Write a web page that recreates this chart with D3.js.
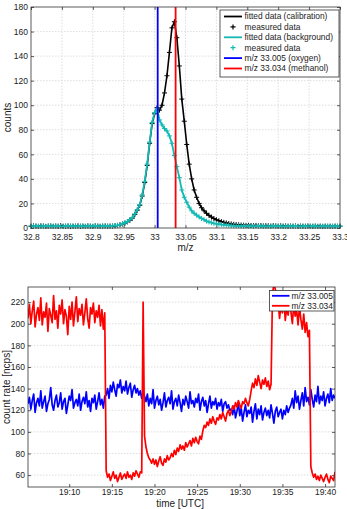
<!DOCTYPE html>
<html>
<head>
<meta charset="utf-8">
<script src="https://cdnjs.cloudflare.com/ajax/libs/d3/7.8.5/d3.min.js"></script>
<style>
    body { margin: 0; background: #fff; }
    svg { display: block; font-family: "Liberation Sans", Arial, sans-serif; }
    .tick text { font-size: 8.5px; fill: #222; }
    .lbl { font-size: 10px; fill: #222; }
    .leg { font-size: 8.4px; fill: #222; }
</style>
</head>
<body>
<script>
// ---- upper panel: mass peak around m/z 33 ----
var mzStart = 32.8;
var mzStep = 0.004;
var mzTicks = [32.8, 32.85, 32.9, 32.95, 33, 33.05, 33.1, 33.15, 33.2, 33.25, 33.3];
var countTicks = [0, 20, 40, 60, 80, 100, 120, 140, 160, 180];

var calibration = [
    1.4, 1.7, 1.5, 1.3, 1.8, 1.6, 1.2, 1.5, 1.7, 1.4, 1.6, 1.3, 1.9, 1.5, 1.4, 1.7, 1.2, 1.6, 1.5, 1.8,
    1.3, 1.6, 1.4, 1.7, 1.5, 1.3, 1.8, 1.6, 1.4, 1.5, 1.7, 1.3, 1.6, 1.5, 1.8,
    2.1, 2.6, 3.2, 4.0, 5.0, 6.4, 8.0, 11, 14.5, 18.5, 26, 37, 51, 69, 85, 93, 98,
    96, 100, 110, 124, 143, 163, 168, 155, 132, 105, 87, 68, 52, 40, 31, 25, 20, 16.5, 14, 12,
    10.3, 8.9, 7.7, 6.7, 5.9, 5.2, 4.6, 4.1, 3.7, 3.3, 3.0, 2.8, 2.6, 2.4,
    2.3, 2.1, 2.2, 2.0, 1.9, 2.1, 1.8, 2.0, 1.7, 1.9, 1.8, 1.6, 1.9, 1.7, 1.5, 1.8, 1.6, 1.7, 1.4, 1.6,
    1.5, 1.7, 1.3, 1.6, 1.5, 1.4, 1.7, 1.5, 1.3, 1.6, 1.4, 1.5, 1.2, 1.6, 1.4, 1.5, 1.3, 1.6, 1.4, 1.5
];
var background = [
    1.6, 1.3, 1.8, 1.5, 1.2, 1.7, 1.4, 1.9, 1.5, 1.3, 1.6, 1.8, 1.4, 1.2, 1.7, 1.5, 1.9, 1.3, 1.6, 1.4,
    1.8, 1.5, 1.2, 1.7, 1.6, 1.4, 1.9, 1.5, 1.3, 1.7, 1.6, 1.8, 1.4, 1.9, 2.0,
    2.2, 2.8, 3.4, 4.2, 5.3, 6.8, 8.5, 11.5, 15, 19, 27, 38, 52, 70, 86, 94, 97, 88, 84, 81,
    79, 75, 69, 59, 50, 41, 31, 25, 21, 17, 14, 12, 10.5, 9, 7.8, 6.8, 5.6, 4.9, 4.3, 3.8,
    3.4, 3.1, 2.8, 2.6, 2.4, 2.2,
    2.0, 1.9, 1.7, 1.8, 1.6, 1.5, 1.7, 1.4, 1.6, 1.3, 1.5, 1.7, 1.4, 1.6, 1.2, 1.5, 1.4, 1.7, 1.3, 1.6,
    1.5, 1.2, 1.4, 1.6, 1.3, 1.5, 1.7, 1.4, 1.2, 1.5, 1.6, 1.3, 1.4, 1.7, 1.5, 1.2, 1.4, 1.6, 1.3, 1.5,
    1.4, 1.6, 1.3, 1.5, 1.4
];
var markerLines = [
    { name: "m/z 33.005 (oxygen)", mz: 33.005, color: "#0000ff" },
    { name: "m/z 33.034 (methanol)", mz: 33.034, color: "#ff0000" }
];

// ---- lower panel: count rates over time, one sample every 10 s ----
var timeStart = "19:05:10";
var timeStepSec = 10;
var timeTicks = ["19:10", "19:15", "19:20", "19:25", "19:30", "19:35", "19:40"];
var rateTicks = [60, 80, 100, 120, 140, 160, 180, 200, 220];

var rate33005 = [
    126, 132, 121, 129, 135, 118, 127, 131, 124, 138, 122, 128, 133, 119, 126, 130, 141, 125, 120, 129,
    134, 123, 127, 136, 121, 128, 131, 117, 125, 133, 129, 139, 122, 127, 130, 124, 135, 120, 128, 132,
    126, 137, 123, 129, 119, 131, 127, 134, 121, 128, 136, 125, 130, 122, 133,
    134, 140, 131, 143, 137, 146, 139, 133, 144, 141, 148, 136, 142, 138, 147, 135, 141, 145, 132, 139,
    143, 136, 140, 134, 138, 131, 137, 133,
    128, 135, 124, 131, 126, 139, 122, 129, 133, 125, 130, 120, 127, 136, 123, 129, 132, 126, 138, 121,
    128, 131, 124, 134, 127, 119, 130, 125, 133, 128, 122, 137, 126, 129, 123, 131, 127, 135, 120, 128,
    132, 124, 129, 118, 126, 133, 122, 128, 125, 131, 121, 127, 124, 130, 119, 126, 128, 122, 125, 120,
    121, 116, 124, 113, 119, 127, 115, 122, 110, 118, 125, 114, 120, 117, 123, 109, 119, 126, 112, 121,
    116, 124, 111, 118, 122, 115, 120, 113, 125, 117, 108, 119, 123, 114, 118, 121, 112, 120, 116, 124,
    118, 122,
    125, 131, 122, 138, 127, 133, 121, 129, 136, 124, 141, 128, 132, 125, 139, 130, 123, 134, 128, 142,
    126, 133, 129, 137, 124, 131, 135, 127, 140, 129, 134, 131
];
var rate33034 = [
    205, 218, 200, 212, 221, 197, 209, 215, 203, 224, 199, 211, 206, 219, 193, 214, 208, 201, 226, 204,
    212, 196, 217, 209, 222, 200, 213, 207, 190, 216, 204, 220, 198, 211, 225, 202, 214, 208, 218, 199,
    210, 223, 205, 196, 215, 209, 219, 201, 212, 206, 217, 198, 213, 195, 210,
    64, 58, 61, 55, 59, 63, 57, 60, 54, 58, 62, 56, 59, 61, 57, 63, 58, 60, 56, 62, 59, 64, 61, 58, 63, 62,
    220,
    96, 86, 80, 76, 74, 71, 75,
    70, 74, 68, 73, 77, 71, 69, 75, 72, 78, 74, 76,
    80, 77, 83, 79, 85, 82, 88, 84, 87, 83, 90, 86,
    89, 92, 87, 94, 90, 95, 91, 89, 96, 93, 101, 106,
    104, 109, 106, 112, 108, 114, 110, 107, 113, 111, 116, 112, 118, 114, 110, 117, 120, 115,
    119, 124, 121, 127, 123, 129, 125, 122, 128, 126, 131, 127, 124, 130,
    138, 145, 141, 149, 143, 152, 146, 140, 148, 144, 150, 142, 147, 139, 144,
    226, 238, 232, 214, 220, 205, 217, 210, 224, 203, 215, 208, 221, 211, 200, 218, 207, 213, 199, 216,
    204, 195, 209, 192, 201, 188, 194,
    68, 62, 58, 61, 56, 59, 55, 60, 57, 54, 58, 61, 56, 53, 59, 57, 55, 63
];

var width = 347, height = 509;
var cyan = "#14b9b4";

var svg = d3.select("body").append("svg")
    .attr("width", width)
    .attr("height", height);

svg.append("defs").append("clipPath").attr("id", "clipB")
    .append("rect").attr("x", 28).attr("y", 287).attr("width", 307).attr("height", 200);

// ================= upper panel =================
var x1 = d3.scaleLinear().domain([32.8, 33.3]).range([31, 340]);
var y1 = d3.scaleLinear().domain([0, 180]).range([228, 7]);

function mzAt(i) { return mzStart + i * mzStep; }

var g1 = svg.append("g");

// grid
g1.append("g").selectAll("line").data(mzTicks.slice(1, -1)).enter().append("line")
    .attr("x1", function(d) { return x1(d); }).attr("x2", function(d) { return x1(d); })
    .attr("y1", y1(0)).attr("y2", y1(180))
    .attr("stroke", "#d6d6d6").attr("stroke-dasharray", "1.5,1.5").attr("stroke-width", 0.8);
g1.append("g").selectAll("line").data(countTicks.slice(1, -1)).enter().append("line")
    .attr("y1", function(d) { return y1(d); }).attr("y2", function(d) { return y1(d); })
    .attr("x1", x1(32.8)).attr("x2", x1(33.3))
    .attr("stroke", "#d6d6d6").attr("stroke-dasharray", "1.5,1.5").attr("stroke-width", 0.8);

// axes
g1.append("g").attr("transform", "translate(0," + y1(0) + ")")
    .call(d3.axisBottom(x1).tickValues(mzTicks).tickSizeInner(-3).tickSizeOuter(0).tickPadding(6)
        .tickFormat(function(d) { return d3.format("")(+d.toFixed(2)); }));
g1.append("g").attr("transform", "translate(" + x1(32.8) + ",0)")
    .call(d3.axisLeft(y1).tickValues(countTicks).tickSizeInner(-3).tickSizeOuter(0).tickPadding(3));
g1.append("g").attr("transform", "translate(0," + y1(180) + ")")
    .call(d3.axisTop(x1).tickValues(mzTicks).tickSizeInner(-3).tickSizeOuter(0).tickFormat(""));
g1.append("g").attr("transform", "translate(" + x1(33.3) + ",0)")
    .call(d3.axisRight(y1).tickValues(countTicks).tickSizeInner(-3).tickSizeOuter(0).tickFormat(""));

var line1 = d3.line()
    .x(function(d, i) { return x1(mzAt(i)); })
    .y(function(d) { return y1(d); });

function plusMarks(parent, values, color) {
    parent.append("g").selectAll("path").data(values).enter().append("path")
        .attr("transform", function(d, i) { return "translate(" + x1(mzAt(i)) + "," + y1(d) + ")"; })
        .attr("d", "M-2.5,0H2.5M0,-2.5V2.5")
        .attr("stroke", color).attr("stroke-width", 1);
}

g1.append("path").datum(calibration).attr("d", line1)
    .attr("fill", "none").attr("stroke", "#000").attr("stroke-width", 1.6);
plusMarks(g1, calibration, "#000");
g1.append("path").datum(background).attr("d", line1)
    .attr("fill", "none").attr("stroke", cyan).attr("stroke-width", 1.8);
plusMarks(g1, background, cyan);

g1.append("g").selectAll("line").data(markerLines).enter().append("line")
    .attr("x1", function(d) { return x1(d.mz); }).attr("x2", function(d) { return x1(d.mz); })
    .attr("y1", y1(0)).attr("y2", y1(180))
    .attr("stroke", function(d) { return d.color; }).attr("stroke-width", 1.8);

// frame
g1.append("rect").attr("x", x1(32.8)).attr("y", y1(180))
    .attr("width", x1(33.3) - x1(32.8)).attr("height", y1(0) - y1(180))
    .attr("fill", "none").attr("stroke", "#333").attr("stroke-width", 0.8);

// legend
var legend1 = [
    { name: "fitted data (calibration)", color: "#000", type: "line" },
    { name: "measured data", color: "#000", type: "plus" },
    { name: "fitted data (background)", color: cyan, type: "line" },
    { name: "measured data", color: cyan, type: "plus" },
    { name: markerLines[0].name, color: markerLines[0].color, type: "line" },
    { name: markerLines[1].name, color: markerLines[1].color, type: "line" }
];
var lg1 = g1.append("g");
lg1.append("rect").attr("x", 220).attr("y", 10).attr("width", 119).attr("height", 67)
    .attr("fill", "#fff").attr("stroke", "#333").attr("stroke-width", 0.8);
var le1 = lg1.selectAll("g").data(legend1).enter().append("g")
    .attr("transform", function(d, i) { return "translate(0," + (16.5 + i * 10.4) + ")"; });
le1.filter(function(d) { return d.type === "line"; }).append("line")
    .attr("x1", 224).attr("x2", 242).attr("stroke", function(d) { return d.color; }).attr("stroke-width", 1.8);
le1.filter(function(d) { return d.type === "plus"; }).append("path")
    .attr("d", "M230.5,0H235.5M233,-2.5V2.5").attr("stroke", function(d) { return d.color; }).attr("stroke-width", 1.2);
le1.append("text").attr("class", "leg").attr("x", 244.5).attr("dy", "0.35em").text(function(d) { return d.name; });

g1.append("text").attr("class", "lbl").attr("x", x1(33.05)).attr("y", 251)
    .attr("text-anchor", "middle").text("m/z");
g1.append("text").attr("class", "lbl").attr("transform", "translate(10.5," + y1(90) + ") rotate(-90)")
    .attr("text-anchor", "middle").text("counts");

// ================= lower panel =================
var parseT = d3.timeParse("%H:%M:%S");
var parseM = d3.timeParse("%H:%M");
var t0 = parseT(timeStart);
function timeAt(i) { return new Date(t0.getTime() + i * timeStepSec * 1000); }

var x2 = d3.scaleTime().domain([t0, timeAt(216)]).range([28, 335]);
var y2 = d3.scaleLinear().domain([49, 234]).range([487, 287]);
var tTicks = timeTicks.map(function(s) { return parseM(s); });

var g2 = svg.append("g");

g2.append("g").selectAll("line").data(rateTicks).enter().append("line")
    .attr("y1", function(d) { return y2(d); }).attr("y2", function(d) { return y2(d); })
    .attr("x1", 28).attr("x2", 335)
    .attr("stroke", "#d6d6d6").attr("stroke-dasharray", "1.5,1.5").attr("stroke-width", 0.8);

g2.append("g").attr("transform", "translate(0,487)")
    .call(d3.axisBottom(x2).tickValues(tTicks).tickSizeInner(-3).tickSizeOuter(0).tickPadding(2)
        .tickFormat(d3.timeFormat("%H:%M")));
g2.append("g").attr("transform", "translate(28,0)")
    .call(d3.axisLeft(y2).tickValues(rateTicks).tickSizeInner(-3).tickSizeOuter(0).tickPadding(3));
g2.append("g").attr("transform", "translate(0,287)")
    .call(d3.axisTop(x2).tickValues(tTicks).tickSizeInner(-3).tickSizeOuter(0).tickFormat(""));
g2.append("g").attr("transform", "translate(335,0)")
    .call(d3.axisRight(y2).tickValues(rateTicks).tickSizeInner(-3).tickSizeOuter(0).tickFormat(""));

var line2 = d3.line()
    .x(function(d, i) { return x2(timeAt(i)); })
    .y(function(d) { return y2(d); });

var series2 = [
    { name: "m/z 33.005", values: rate33005, color: "#0000ff" },
    { name: "m/z 33.034", values: rate33034, color: "#ff0000" }
];
g2.append("g").attr("clip-path", "url(#clipB)").selectAll("path").data(series2).enter().append("path")
    .attr("d", function(d) { return line2(d.values); })
    .attr("fill", "none").attr("stroke", function(d) { return d.color; })
    .attr("stroke-width", 1.7).attr("stroke-linejoin", "round");

g2.append("rect").attr("x", 28).attr("y", 287).attr("width", 307).attr("height", 200)
    .attr("fill", "none").attr("stroke", "#333").attr("stroke-width", 0.8);

var lg2 = g2.append("g");
lg2.append("rect").attr("x", 269.5).attr("y", 290.5).attr("width", 64.5).attr("height", 20.5)
    .attr("fill", "#fff").attr("stroke", "#333").attr("stroke-width", 0.8);
var le2 = lg2.selectAll("g").data(series2).enter().append("g")
    .attr("transform", function(d, i) { return "translate(0," + (295.8 + i * 10) + ")"; });
le2.append("line").attr("x1", 272).attr("x2", 289.5)
    .attr("stroke", function(d) { return d.color; }).attr("stroke-width", 1.8);
le2.append("text").attr("class", "leg").attr("x", 291.5).attr("dy", "0.35em").text(function(d) { return d.name; });

g2.append("text").attr("class", "lbl").attr("x", x2(parseM("19:23"))).attr("y", 506.5)
    .attr("text-anchor", "middle").text("time [UTC]");
g2.append("text").attr("class", "lbl").attr("transform", "translate(10,387) rotate(-90)")
    .attr("text-anchor", "middle").text("count rate [ncps]");

svg.selectAll(".domain").remove();
svg.selectAll(".tick line").attr("stroke", "#333").attr("stroke-width", 0.8);
</script>
</body>
</html>
